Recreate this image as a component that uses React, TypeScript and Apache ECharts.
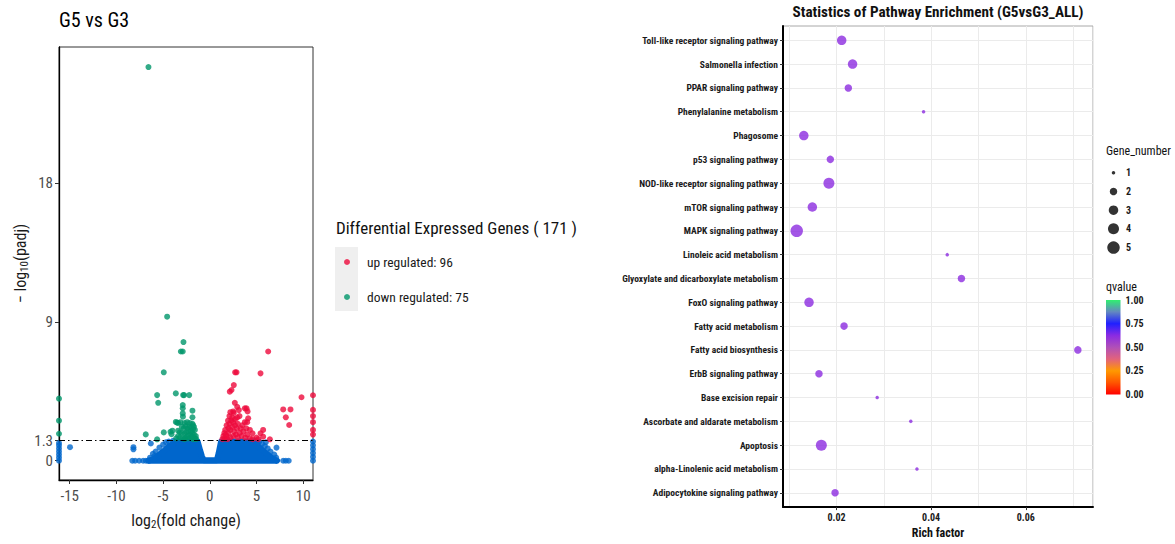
import React, { useEffect, useRef } from 'react';
import * as echarts from 'echarts';

const FONT = "'Roboto Condensed', 'Liberation Sans', Arial, sans-serif";

// ---------------- Volcano plot data ----------------
const comparison = 'G5 vs G3';
const upCount = 96;
const downCount = 75;
const padjThreshold = 1.3;
const volcanoXTicks = [-15, -10, -5, 0, 5, 10];
const volcanoYTicks = [0, 1.3, 9, 18];

const downPoints: number[][] = [
  [-6.57, 25.55], [-4.57, 9.35], [-2.82, 7.7], [-3.1, 7.09], [-2.9, 7.09], [-4.93, 5.74],
  [-5.64, 4.26], [-5.53, 3.76], [-3.64, 4.37], [-2.86, 4.26], [-2.75, 4.26], [-2.21, 4.26],
  [-2.9, 3.61], [-2.9, 3.4], [-2.9, 3.07], [-2.88, 2.86], [-1.86, 3.25], [-1.86, 2.82],
  [-3.64, 2.52], [-3.5, 2.47], [-3.39, 2.45], [-3.14, 2.5], [-2.71, 2.45], [-2.43, 2.5],
  [-2.14, 2.45], [-1.86, 2.4], [-1.79, 2.3], [-6.86, 1.71], [-5.64, 1.39], [-4.93, 1.84],
  [-4.21, 1.88], [-4.0, 1.95], [-4.1, 1.72], [-3.39, 1.95], [-3.21, 1.85], [-3.0, 2.2],
  [-2.8, 2.1], [-2.6, 2.25], [-2.4, 2.1], [-2.2, 2.2], [-2.0, 2.15], [-1.8, 2.05],
  [-1.6, 2.0], [-3.0, 1.8], [-2.7, 1.75], [-2.5, 1.85], [-2.3, 1.9], [-2.1, 1.7],
  [-1.9, 1.8], [-1.7, 1.7], [-1.5, 1.6], [-3.2, 1.5], [-2.9, 1.45], [-2.6, 1.5],
  [-2.3, 1.45], [-2.0, 1.5], [-1.8, 1.4], [-1.6, 1.45], [-1.45, 1.4], [-3.4, 1.6],
  [-3.6, 1.45], [-2.4, 1.6], [-2.0, 1.9], [-1.9, 1.55], [-2.7, 1.4], [-1.7, 2.2],
  [-16.15, 4.03], [-16.15, 2.6], [-16.15, 1.75],
];

const upPoints: number[][] = [
  [6.25, 7.09], [2.71, 5.74], [2.86, 5.74], [5.43, 5.67], [2.57, 4.91], [2.14, 4.48],
  [2.32, 4.59], [9.82, 4.12], [2.68, 3.76], [2.93, 3.5], [3.11, 3.29], [3.75, 3.4],
  [3.93, 3.4], [4.04, 3.2], [2.5, 3.2], [2.57, 3.1], [3.18, 2.9], [2.93, 2.8],
  [4.11, 2.75], [4.0, 2.5], [4.29, 2.0], [4.57, 1.78], [5.71, 2.0], [5.43, 1.78],
  [5.71, 1.56], [6.43, 1.39], [3.75, 2.5], [3.5, 2.3], [7.86, 3.33], [8.64, 3.33],
  [8.14, 2.82], [8.5, 2.32], [1.35, 1.4], [1.45, 1.6], [1.55, 1.8], [1.65, 2.0],
  [1.8, 2.3], [1.95, 2.6], [2.1, 2.9], [2.2, 3.15], [1.6, 1.45], [1.8, 1.6],
  [2.0, 1.8], [2.2, 2.0], [2.4, 2.2], [2.1, 2.4], [2.3, 2.6], [2.5, 2.5],
  [2.7, 2.3], [2.9, 2.1], [1.9, 1.4], [2.2, 1.5], [2.5, 1.6], [2.8, 1.7],
  [3.0, 1.5], [3.2, 1.8], [3.4, 1.6], [3.6, 1.9], [3.8, 1.5], [4.0, 1.7],
  [4.3, 1.45], [4.6, 1.4], [2.6, 1.9], [2.4, 2.8], [2.7, 2.7], [3.0, 2.4],
  [3.3, 2.1], [2.0, 2.1], [1.7, 1.7], [3.9, 2.1], [5.0, 1.5], [5.2, 1.4],
  [11.05, 4.25], [11.05, 3.3], [11.05, 2.9], [11.05, 2.5], [11.05, 2.0], [11.05, 1.7],
];

const nsPoints: number[][] = [
  [-14.97, 0.88], [-8.18, 0.88], [-8.18, 0.74], [-8.3, 0], [-8.0, 0], [-7.57, 0],
  [-7.14, 0], [-6.85, 0], [-6.32, 1.12], [-6.1, 0.45], [-5.8, 0.6], [-5.4, 0.85],
  [-5.0, 1.05], [-4.7, 1.2], [-4.4, 1.25], [-5.9, 0.3], [-6.4, 0.2], [-3.9, 1.3],
  [7.14, 0.85], [7.86, 0], [8.14, 0], [8.45, 0], [5.3, 1.25], [5.6, 1.1],
  [5.9, 0.95], [6.2, 0.8], [6.5, 0.6], [6.9, 0.4], [7.1, 0.2], [4.9, 1.3],
  [6.0, 1.2], [5.1, 1.2],
  [-16.15, 0], [-16.15, 0.2], [-16.15, 0.4], [-16.15, 0.6], [-16.15, 0.8], [-16.15, 1.0], [-16.15, 1.15],
  [11.05, 0], [11.05, 0.25], [11.05, 0.5], [11.05, 0.75], [11.05, 1.0], [11.05, 1.25],
];

// upper edge of the dense cloud of non-significant genes
const nsMassTop: number[][] = [
  [-6.6, 0.0], [-6.0, 0.1], [-5.6, 0.3], [-5.3, 0.45], [-4.9, 0.65], [-4.6, 0.8],
  [-4.3, 0.97], [-3.9, 1.1], [-3.6, 1.25], [-1.3, 1.25], [-1.05, 0.7], [-0.85, 0.3],
  [-0.65, 0.03], [0.75, 0.03], [0.95, 0.5], [1.2, 1.25], [4.8, 1.25], [5.1, 1.0],
  [5.5, 0.75], [5.9, 0.55], [6.3, 0.35], [6.7, 0.15], [7.2, 0.0],
];

// ---------------- Pathway enrichment data ----------------
const enrichTitle = 'Statistics of Pathway Enrichment (G5vsG3_ALL)';
const pathways = [
  'Toll-like receptor signaling pathway',
  'Salmonella infection',
  'PPAR signaling pathway',
  'Phenylalanine metabolism',
  'Phagosome',
  'p53 signaling pathway',
  'NOD-like receptor signaling pathway',
  'mTOR signaling pathway',
  'MAPK signaling pathway',
  'Linoleic acid metabolism',
  'Glyoxylate and dicarboxylate metabolism',
  'FoxO signaling pathway',
  'Fatty acid metabolism',
  'Fatty acid biosynthesis',
  'ErbB signaling pathway',
  'Base excision repair',
  'Ascorbate and aldarate metabolism',
  'Apoptosis',
  'alpha-Linolenic acid metabolism',
  'Adipocytokine signaling pathway',
];
const richFactor = [
  0.0211, 0.0234, 0.0225, 0.0384, 0.0131, 0.0187, 0.0184, 0.0149, 0.0116, 0.0434,
  0.0464, 0.0142, 0.0216, 0.071, 0.0163, 0.0286, 0.0357, 0.0168, 0.037, 0.0197,
];
const geneNumber = [3, 3, 2, 1, 3, 2, 4, 3, 5, 1, 2, 3, 2, 2, 2, 1, 1, 4, 1, 2];
const qvalue = [
  0.62, 0.62, 0.62, 0.62, 0.62, 0.62, 0.62, 0.62, 0.62, 0.62,
  0.62, 0.62, 0.62, 0.62, 0.62, 0.62, 0.62, 0.62, 0.62, 0.62,
];
const geneLegend = [1, 2, 3, 4, 5];
const richTicks = [0.02, 0.04, 0.06];
const qTicks = [0, 0.25, 0.5, 0.75, 1];

// ---------------- styles ----------------
const RED = '#ee0a3c';
const GREEN = '#00966a';
const BLUE = '#0066cc';
const sizeByGenes = [0, 3.5, 7.5, 9.5, 11, 12.5];
const qColors = ['#ff0000', '#ff5500', '#ff9900', '#e2637c', '#b050b8', '#8a2be2', '#2020ff', '#6488c0', '#30f070'];

export default function App() {
  const ref = useRef<HTMLDivElement>(null);

  useEffect(() => {
    if (!ref.current) return;
    const chart = echarts.init(ref.current, undefined, { renderer: 'svg' });
    const upName = `up regulated: ${upCount}`;
    const downName = `down regulated: ${downCount}`;
    const pathIdx = pathways.map((_, i) => i);
    const gradStops = qColors
      .map((c, i) => ({ offset: 1 - i / (qColors.length - 1), color: c }))
      .reverse();

    const txt = (x: number, y: number, text: string, size: number, extra: any = {}) => ({
      type: 'text',
      x,
      y,
      silent: true,
      style: {
        text,
        fontSize: size,
        fontFamily: FONT,
        fill: '#111',
        align: 'left',
        textAlign: 'left',
        verticalAlign: 'middle',
        textVerticalAlign: 'middle',
        ...extra,
      },
    });

    const nameRich = {
      a: { fontSize: 16, lineHeight: 20, fontFamily: FONT, color: '#1a1a1a' },
      s: { fontSize: 11, lineHeight: 10, verticalAlign: 'bottom', fontFamily: FONT, color: '#1a1a1a' },
    };

    const option: any = {
      animation: false,
      backgroundColor: '#fff',
      textStyle: { fontFamily: FONT },
      grid: [
        { left: 59, top: 47, width: 254, height: 433, show: true, borderColor: '#333', borderWidth: 1 },
        { left: 783, top: 26, width: 310, height: 485, show: true, borderColor: '#a8a8a8', borderWidth: 1 },
        { left: 1107, top: 163.4, width: 13, height: 93.5 },
        { left: 1106, top: 300, width: 14.5, height: 94.5 },
      ],
      xAxis: [
        {
          gridIndex: 0, type: 'value', min: -16.15, max: 11.05,
          axisLine: { show: true, onZero: false, lineStyle: { color: '#000', width: 1.3 } },
          axisTick: { show: true, customValues: volcanoXTicks, length: 4, lineStyle: { color: '#333' } },
          axisLabel: { customValues: volcanoXTicks, color: '#4d4d4d', fontSize: 15, fontFamily: FONT, margin: 8 },
          splitLine: { show: false },
          name: '{a|log}{s|2}{a|(fold change)}', nameLocation: 'middle', nameGap: 30,
          nameTextStyle: { rich: nameRich },
        },
        {
          gridIndex: 1, type: 'value', min: 0.0087, max: 0.0742,
          axisLine: { show: true, onZero: false, lineStyle: { color: '#000', width: 2 } },
          axisTick: { show: true, customValues: richTicks, length: 3, lineStyle: { color: '#333' } },
          axisLabel: {
            customValues: richTicks, formatter: (v: number) => v.toFixed(2),
            color: '#1a1a1a', fontSize: 10, fontWeight: 'bold', fontFamily: FONT, margin: 5,
          },
          splitLine: { show: false },
          name: 'Rich factor', nameLocation: 'middle', nameGap: 18,
          nameTextStyle: { fontSize: 12, fontWeight: 'bold', color: '#111', fontFamily: FONT },
        },
        {
          gridIndex: 1, type: 'value', min: 0.0087, max: 0.0742, minInterval: 0.01, maxInterval: 0.01,
          axisLine: { show: false }, axisTick: { show: false }, axisLabel: { show: false },
          splitLine: { show: true, lineStyle: { color: '#ebebeb', width: 1 } },
        },
        { gridIndex: 2, type: 'value', min: 0, max: 1, show: false },
        { gridIndex: 3, type: 'category', data: ['q'], show: false },
      ],
      yAxis: [
        {
          gridIndex: 0, type: 'value', min: -1.25, max: 26.85,
          axisLine: { show: true, onZero: false, lineStyle: { color: '#000', width: 1.3 } },
          axisTick: { show: true, customValues: volcanoYTicks, length: 4, lineStyle: { color: '#333' } },
          axisLabel: { customValues: volcanoYTicks, color: '#4d4d4d', fontSize: 15, fontFamily: FONT, margin: 6 },
          splitLine: { show: false },
          name: '{a|\u2212 log}{s|10}{a|(padj)}', nameLocation: 'middle', nameGap: 24,
          nameTextStyle: { rich: nameRich },
        },
        {
          gridIndex: 1, type: 'value', min: -0.6, max: 19.6, inverse: true,
          splitNumber: 20, minInterval: 1, maxInterval: 1,
          axisLine: { show: true, onZero: false, lineStyle: { color: '#000', width: 2 } },
          axisTick: { show: true, customValues: pathIdx, length: 3, lineStyle: { color: '#333' } },
          axisLabel: {
            customValues: pathIdx, formatter: (v: number) => pathways[Math.round(v)] ?? '',
            color: '#1a1a1a', fontSize: 9.5, fontWeight: 'bold', fontFamily: FONT, margin: 5,
          },
          splitLine: { show: true, lineStyle: { color: '#ebebeb', width: 1 } },
        },
        {
          gridIndex: 2, type: 'category', data: geneLegend.map(String), inverse: true, position: 'right',
          axisLine: { show: false }, axisTick: { show: false },
          axisLabel: { margin: 6, fontSize: 10, fontWeight: 'bold', color: '#1a1a1a', fontFamily: FONT },
          splitLine: { show: false },
        },
        {
          gridIndex: 3, type: 'value', min: 0, max: 1, position: 'right',
          axisLine: { show: false },
          axisTick: { show: true, inside: true, customValues: qTicks, length: 3, lineStyle: { color: '#fff', width: 1 } },
          axisLabel: {
            customValues: qTicks, formatter: (v: number) => v.toFixed(2), margin: 5,
            fontSize: 10, fontWeight: 'bold', color: '#1a1a1a', fontFamily: FONT,
          },
          splitLine: { show: false },
        },
      ],
      visualMap: [
        {
          type: 'continuous', show: false, seriesIndex: 4, dimension: 3, min: 0, max: 1,
          inRange: { color: qColors },
        },
      ],
      legend: {
        data: [{ name: upName, icon: 'circle' }, { name: downName, icon: 'circle' }],
        orient: 'vertical', left: 344, top: 254, itemWidth: 30, itemHeight: 6, itemGap: 19,
        padding: 0, selectedMode: false,
        textStyle: { fontSize: 13.5, lineHeight: 16, color: '#1a1a1a', fontFamily: FONT },
      },
      graphic: [
        { type: 'rect', z: 0, silent: true, shape: { x: 335, y: 247, width: 23, height: 64 }, style: { fill: '#efefef' } },
        txt(59, 20, comparison, 20, { fill: '#000' }),
        txt(336, 228, `Differential Expressed Genes ( ${upCount + downCount} )`, 17, { fill: '#111' }),
        txt(938, 12, enrichTitle, 15.2, { fontWeight: 'bold', align: 'center', textAlign: 'center' }),
        txt(1106, 151, 'Gene_number', 12),
        txt(1106, 287, 'qvalue', 12),
      ],
      series: [
        {
          type: 'line', xAxisIndex: 0, yAxisIndex: 0, data: nsMassTop, symbol: 'none', silent: true,
          lineStyle: { color: BLUE, width: 6, join: 'round', cap: 'round' },
          areaStyle: { color: BLUE, opacity: 1, origin: -0.2 },
          z: 1,
        },
        {
          type: 'scatter', xAxisIndex: 0, yAxisIndex: 0, data: nsPoints, symbolSize: 6,
          itemStyle: { color: BLUE }, silent: true, z: 2,
        },
        {
          name: upName, type: 'scatter', xAxisIndex: 0, yAxisIndex: 0, data: upPoints, symbolSize: 6,
          itemStyle: { color: RED }, silent: true, z: 3,
        },
        {
          name: downName, type: 'scatter', xAxisIndex: 0, yAxisIndex: 0, data: downPoints, symbolSize: 6,
          itemStyle: { color: GREEN }, silent: true, z: 3,
          markLine: {
            silent: true, symbol: ['none', 'none'], label: { show: false },
            lineStyle: { color: '#000', width: 1, type: [6, 3, 1.5, 3] },
            data: [{ yAxis: padjThreshold }],
          },
        },
        {
          type: 'scatter', xAxisIndex: 1, yAxisIndex: 1, silent: true,
          data: pathways.map((_, i) => [richFactor[i], i, geneNumber[i], qvalue[i]]),
          symbolSize: (d: number[]) => sizeByGenes[d[2]],
          itemStyle: { color: '#8a2be2' },
        },
        {
          type: 'scatter', xAxisIndex: 3, yAxisIndex: 2, silent: true,
          data: geneLegend.map((g, i) => [0.5, i, g]),
          symbolSize: (d: number[]) => sizeByGenes[d[2]],
          itemStyle: { color: '#000' },
        },
        {
          type: 'bar', xAxisIndex: 4, yAxisIndex: 3, silent: true, barWidth: '100%', data: [1],
          itemStyle: { color: new echarts.graphic.LinearGradient(0, 0, 0, 1, gradStops) },
        },
      ],
    };
    chart.setOption(option);
    return () => chart.dispose();
  }, []);

  return (
    <div
      ref={ref}
      style={{ position: 'absolute', left: 0, top: 0, width: 1175, height: 544, background: '#fff' }}
    />
  );
}
